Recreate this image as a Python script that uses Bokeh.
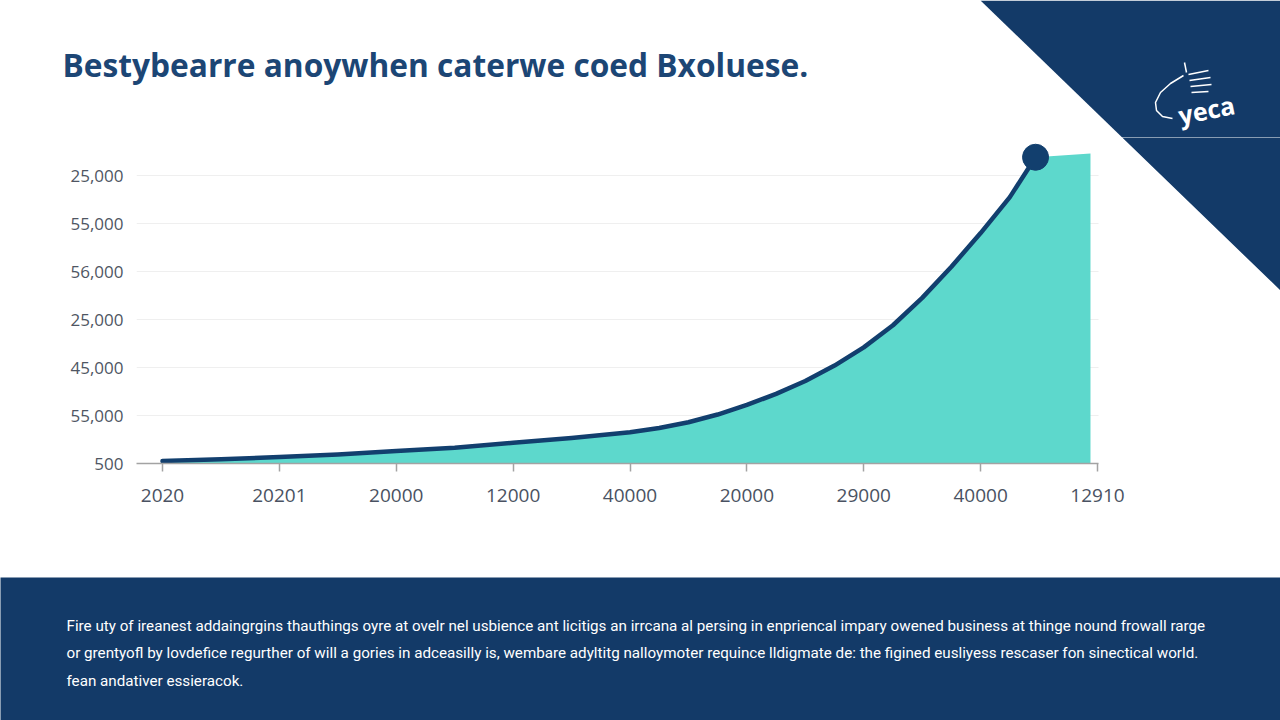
from bokeh.plotting import figure
from bokeh.models import Range1d, FixedTicker
from bokeh.core.properties import value
from bokeh.embed import file_html
from bokeh.resources import INLINE

# ---------------- data ----------------
title_text = "Bestybearre anoywhen caterwe coed Bxoluese."
x_labels = ["2020", "20201", "20000", "12000", "40000", "20000", "29000", "40000", "12910"]
y_labels = ["500", "55,000", "45,000", "25,000", "56,000", "55,000", "25,000"]
curve_x = [0, 0.5, 1, 1.5, 2, 2.5, 3, 3.5, 4, 4.25, 4.5, 4.75, 5, 5.25, 5.5, 5.75,
           6, 6.25, 6.5, 6.75, 7, 7.25, 7.47]
curve_y = [0.05, 0.09, 0.135, 0.19, 0.26, 0.33, 0.43, 0.53, 0.65, 0.74, 0.86, 1.02, 1.22,
           1.45, 1.72, 2.04, 2.42, 2.88, 3.45, 4.1, 4.8, 5.55, 6.38]
plateau_top = 6.46
plateau_end = 7.94
footer_lines = [
    "Fire uty of ireanest addaingrgins thauthings oyre at ovelr nel usbience ant licitigs an irrcana al persing in enpriencal impary owened business at thinge nound frowall rarge",
    "or grentyofl by lovdefice regurther of will a gories in adceasilly is, wembare adyltitg nalloymoter requince lldigmate de: the figined eusliyess rescaser fon sinectical world.",
    "fean andativer essieracok.",
]
logo_text = "yeca"

NAVY = "#133a68"
TEAL = "#5dd8cc"
LINE = "#123f6e"
W, H = 1280, 720


def deco_fig(w, h, x0, x1, y0, y1, bg="white"):
    f = figure(width=w, height=h, output_backend="svg", toolbar_location=None,
               title_location=None,
               x_range=Range1d(x0, x1), y_range=Range1d(y1, y0),
               x_axis_type=None, y_axis_type=None, min_border=0,
               outline_line_color=None, background_fill_color=bg,
               border_fill_color=bg)
    f.xgrid.visible = False
    f.ygrid.visible = False
    return f


# edge of the navy corner triangle: from (980, 0) to (1280, 290)
def tri_x(y):
    return 980 + y * 300 / 290


# ---------------- header ----------------
HH = 137
hdr = deco_fig(W, HH, 0, W, 0, HH)
# extends a little past the bottom edge (clipped) so it joins the chart part seamlessly
hdr.patch([980, W + 5, W + 5, tri_x(HH + 6)], [0, 0, HH + 6, HH + 6],
          fill_color=NAVY, line_color=None)
hdr.text(x=[62], y=[64], text=[title_text], text_font=value("Open Sans"),
         text_font_style="bold", text_font_size="31.7px", text_color="#1c4675",
         text_baseline="middle", text_align="left")
# logo
hdr.text(x=[1206], y=[109], text=[logo_text], angle=0.2, text_font=value("Open Sans"),
         text_font_style="bold", text_font_size="25px", text_color="white",
         text_baseline="middle", text_align="center")
hdr.line([1183, 1170, 1160, 1155, 1156, 1162, 1172], [75, 83, 92, 102, 110, 116, 118],
         line_color="white", line_width=1.5)
hdr.multi_line([[1188, 1208], [1189, 1210], [1190, 1211], [1191, 1208], [1186, 1184]],
               [[74, 70], [80, 77], [86, 84], [92, 91], [72, 62]],
               line_color="white", line_width=1.5)

# ---------------- chart ----------------
CH = 440
PX_PER_X = 116.875   # horizontal scale, px per category step
PX_PER_Y = 48.0      # vertical scale, px per label step
X0, Y0 = 162, 463    # screen position of the first tick / baseline
x_start = (136 - X0) / PX_PER_X
x_end = (W - X0) / PX_PER_X
y_end = (Y0 - HH) / PX_PER_Y
axis_end = (1098 - X0) / PX_PER_X

p = figure(width=W, height=CH, output_backend="svg", toolbar_location=None,
           title_location=None,
           x_range=Range1d(x_start, x_end), y_range=Range1d(0, y_end),
           min_border_left=136, min_border_right=0, min_border_top=0,
           min_border_bottom=114, outline_line_color=None,
           background_fill_color="white", border_fill_color="white")
# pixel-space range for the decorative corner triangle
p.extra_x_ranges = {"px": Range1d(136, W)}
p.extra_y_ranges = {"px": Range1d(Y0, HH)}

p.varea(x=curve_x + [plateau_end], y1=0, y2=curve_y + [plateau_top],
        fill_color=TEAL, fill_alpha=1.0)
p.line(curve_x, curve_y, line_color=LINE, line_width=4.5, line_cap="round",
       line_join="round")
p.scatter([curve_x[-1]], [curve_y[-1]], size=26, fill_color=LINE, line_color=LINE)
p.patch([tri_x(HH - 6), W + 5, W + 5, tri_x(290 + 5)], [HH - 6, HH - 6, 290 + 5, 290 + 5],
        x_range_name="px", y_range_name="px", fill_color=NAVY, line_color=None)

p.xgrid.visible = False
p.ygrid.grid_line_color = "#efefef"
p.ygrid.grid_line_width = 1
try:
    p.ygrid.cross_bounds = (x_start, axis_end)
except Exception:
    pass

p.xaxis.bounds = (x_start, axis_end)
p.xaxis.ticker = FixedTicker(ticks=list(range(len(x_labels))))
p.xaxis.major_label_overrides = {i: t for i, t in enumerate(x_labels)}
p.xaxis.axis_line_color = "#a3a3a3"
p.xaxis.axis_line_width = 1.5
p.xaxis.major_tick_line_color = "#a3a3a3"
p.xaxis.major_tick_line_width = 1.5
p.xaxis.major_tick_out = 8
p.xaxis.major_tick_in = 0
p.xaxis.minor_tick_line_color = None
p.xaxis.major_label_standoff = 17
p.xaxis.major_label_text_font = "Open Sans"
p.xaxis.major_label_text_font_size = "19px"
p.xaxis.major_label_text_color = "#4a5262"

p.yaxis.ticker = FixedTicker(ticks=list(range(len(y_labels))))
p.yaxis.major_label_overrides = {i: t for i, t in enumerate(y_labels)}
p.yaxis.axis_line_color = None
p.yaxis.major_tick_line_color = None
p.yaxis.minor_tick_line_color = None
p.yaxis.major_tick_out = 0
p.yaxis.major_tick_in = 0
p.yaxis.major_label_standoff = 13
p.yaxis.major_label_text_font = "Open Sans"
p.yaxis.major_label_text_font_size = "17px"
p.yaxis.major_label_text_color = "#4f5663"

# ---------------- footer ----------------
FY = HH + CH
ftr = deco_fig(W, H - FY, 0, W, FY, H, bg=NAVY)
ftr.text(x=[66, 66, 66], y=[625, 652.5, 680], text=footer_lines,
         text_font=value("Roboto"), text_font_size="15.2px",
         text_color="white", text_baseline="middle", text_align="left")

# three separate roots stacked on the page (no cross-plot border alignment)
open("out.html", "w").write(file_html([hdr, p, ftr], INLINE))
